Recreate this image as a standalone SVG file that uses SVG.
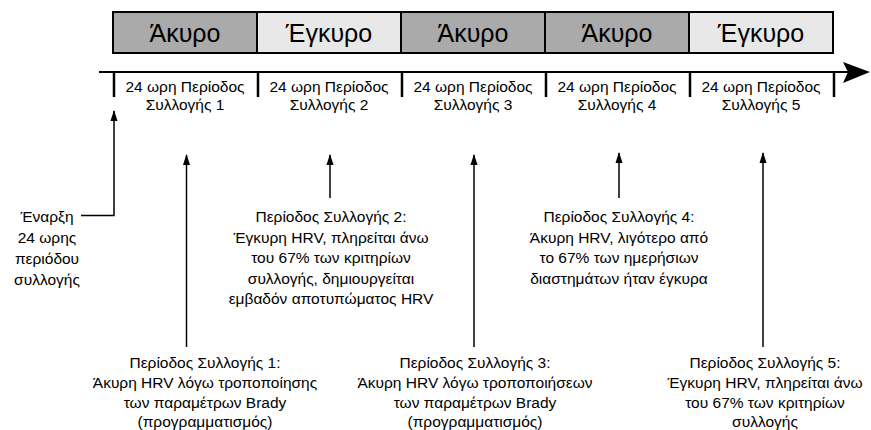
<svg xmlns="http://www.w3.org/2000/svg" width="871" height="430" viewBox="0 0 871 430">
<defs>
<style>
text{font-family:"Liberation Sans",Arial,sans-serif;fill:#000;text-anchor:middle}
.box{stroke:#000;stroke-width:2}
.inv{fill:#aaaaaa}
.val{fill:#e8e8e8}
.bt{font-size:25px}
.al{font-size:15.5px}
.t{font-size:15.5px}
.ln{stroke:#000;stroke-width:1.5;fill:none}
.tick{stroke:#000;stroke-width:2.5}
</style>
<marker id="ah" markerWidth="11" markerHeight="8" refX="10" refY="3.5" orient="auto" markerUnits="userSpaceOnUse" viewBox="0 0 11 8" overflow="visible">
<path d="M0,0 L11,3.5 L0,7 Z" fill="#000"/>
</marker>
</defs>

<g id="boxes">
<g id="box1"><rect class="box inv" x="113" y="12" width="144" height="41"/><text class="bt" x="185" y="42">Άκυρο</text></g>
<g id="box2"><rect class="box val" x="257" y="12" width="144" height="41"/><text class="bt" x="329" y="42">Έγκυρο</text></g>
<g id="box3"><rect class="box inv" x="401" y="12" width="144" height="41"/><text class="bt" x="473" y="42">Άκυρο</text></g>
<g id="box4"><rect class="box inv" x="545" y="12" width="144" height="41"/><text class="bt" x="617" y="42">Άκυρο</text></g>
<g id="box5"><rect class="box val" x="689" y="12" width="144" height="41"/><text class="bt" x="761" y="42">Έγκυρο</text></g>
</g>

<g id="axis">
<line x1="99" y1="72" x2="850" y2="72" stroke="#000" stroke-width="2"/>
<path d="M843,62 L870,72 L843,83 L848,72 Z" fill="#000"/>
<line class="tick" x1="114" y1="72" x2="114" y2="97"/>
<line class="tick" x1="258" y1="72" x2="258" y2="97"/>
<line class="tick" x1="402" y1="72" x2="402" y2="97"/>
<line class="tick" x1="546" y1="72" x2="546" y2="97"/>
<line class="tick" x1="690" y1="72" x2="690" y2="97"/>
<line class="tick" x1="834" y1="72" x2="834" y2="97"/>
</g>

<g id="periods">
<g id="p1"><text class="al" x="185" y="92">24 ωρη Περίοδος</text><text class="al" x="185" y="110">Συλλογής 1</text></g>
<g id="p2"><text class="al" x="329" y="92">24 ωρη Περίοδος</text><text class="al" x="329" y="110">Συλλογής 2</text></g>
<g id="p3"><text class="al" x="473" y="92">24 ωρη Περίοδος</text><text class="al" x="473" y="110">Συλλογής 3</text></g>
<g id="p4"><text class="al" x="617" y="92">24 ωρη Περίοδος</text><text class="al" x="617" y="110">Συλλογής 4</text></g>
<g id="p5"><text class="al" x="761" y="92">24 ωρη Περίοδος</text><text class="al" x="761" y="110">Συλλογής 5</text></g>
</g>

<g id="connectors">
<path class="ln" d="M81,215.5 H114 V111" marker-end="url(#ah)"/>
<line class="ln" x1="186.5" y1="347" x2="186.5" y2="155" marker-end="url(#ah)"/>
<line class="ln" x1="330" y1="198" x2="330" y2="155" marker-end="url(#ah)"/>
<line class="ln" x1="474" y1="347" x2="474" y2="155" marker-end="url(#ah)"/>
<line class="ln" x1="619" y1="198" x2="619" y2="153" marker-end="url(#ah)"/>
<line class="ln" x1="763" y1="347" x2="763" y2="153" marker-end="url(#ah)"/>
</g>

<g id="note-start">
<text class="t" x="47" y="222">Έναρξη</text>
<text class="t" x="47" y="243">24 ωρης</text>
<text class="t" x="47" y="264">περιόδου</text>
<text class="t" x="47" y="285">συλλογής</text>
</g>

<g id="note2">
<text class="t" x="331" y="222">Περίοδος Συλλογής 2:</text>
<text class="t" x="331" y="242.5">Έγκυρη HRV, πληρείται άνω</text>
<text class="t" x="331" y="263">του 67% των κριτηρίων</text>
<text class="t" x="331" y="283.5">συλλογής, δημιουργείται</text>
<text class="t" x="331" y="304">εμβαδόν αποτυπώματος HRV</text>
</g>

<g id="note4">
<text class="t" x="619" y="222">Περίοδος Συλλογής 4:</text>
<text class="t" x="619" y="242.5">Άκυρη HRV, λιγότερο από</text>
<text class="t" x="619" y="263">το 67% των ημερήσιων</text>
<text class="t" x="619" y="283.5">διαστημάτων ήταν έγκυρα</text>
</g>

<g id="note1">
<text class="t" x="205" y="368">Περίοδος Συλλογής 1:</text>
<text class="t" x="205" y="388">Άκυρη HRV λόγω τροποποίησης</text>
<text class="t" x="205" y="408">των παραμέτρων Brady</text>
<text class="t" x="205" y="426.5">(προγραμματισμός)</text>
</g>

<g id="note3">
<text class="t" x="475" y="368">Περίοδος Συλλογής 3:</text>
<text class="t" x="475" y="388">Άκυρη HRV λόγω τροποποιήσεων</text>
<text class="t" x="475" y="408">των παραμέτρων Brady</text>
<text class="t" x="475" y="426.5">(προγραμματισμός)</text>
</g>

<g id="note5">
<text class="t" x="765" y="368">Περίοδος Συλλογής 5:</text>
<text class="t" x="765" y="388">Έγκυρη HRV, πληρείται άνω</text>
<text class="t" x="765" y="408">του 67% των κριτηρίων</text>
<text class="t" x="765" y="426.5">συλλογής</text>
</g>
</svg>
